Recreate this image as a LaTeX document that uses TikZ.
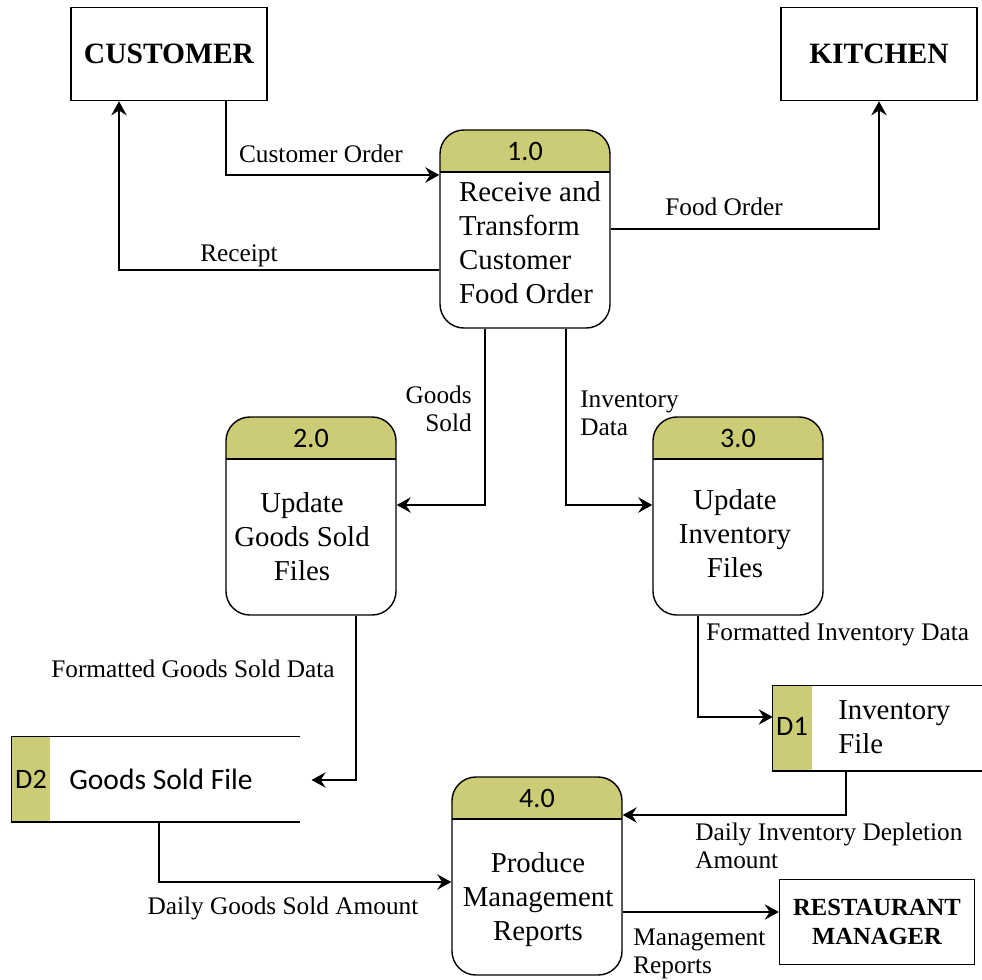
\documentclass[tikz,border=0pt]{standalone}
\usepackage{fontspec}
\setmainfont{Liberation Serif}
\newfontfamily\numfont{Carlito}
\usetikzlibrary{arrows.meta,positioning}
\definecolor{hdr}{RGB}{204,204,118}
\tikzset{
    %Define standard arrow tip
    >={Stealth[length=10pt,width=11pt,inset=3.5pt]},
    %Define style for external entities
    entity/.style={
           rectangle,
           draw=black, line width=1pt,
           minimum width=4.9cm,
           minimum height=2.33cm,
           font=\fontsize{21}{25}\selectfont\bfseries,
           align=center},
    %Define style for processes
    process/.style={
           rectangle,
           rounded corners=0.6cm,
           draw=black, line width=1pt,
           minimum width=4.25cm,
           minimum height=4.95cm,
           path picture={
             \fill[hdr, sharp corners] (path picture bounding box.north west)
                rectangle ([yshift=-1.05cm]path picture bounding box.north east);
             \draw[line width=1pt, sharp corners] ([yshift=-1.05cm]path picture bounding box.north west)
                -- ([yshift=-1.05cm]path picture bounding box.north east);}},
    ptext/.style={
           font=\fontsize{20.5}{24.2}\selectfont,
           align=center,
           inner sep=0pt},
    num/.style={
           font=\numfont\fontsize{20}{24}\selectfont,
           inner sep=0pt},
    store/.style={
           rectangle,
           minimum height=2.125cm},
    flowlabel/.style={
           font=\fontsize{18}{20}\selectfont,
           inner sep=0pt},
    % Define arrow style
    flow/.style={
           ->,
           line width=1pt}
}
\begin{document}
\begin{tikzpicture}[x=0.025cm,y=-0.025cm]
\useasboundingbox (0,0) rectangle (982,980);
 %entities
\node[entity](cust) at (169,54){CUSTOMER};
\node[entity](kit) at (879,54){KITCHEN};
\node[entity, minimum width=4.875cm, minimum height=2.125cm,
  font=\fontsize{17.5}{21}\selectfont\bfseries](rm) at (877,922){RESTAURANT\\MANAGER};
 %processes
\node[process](p1) at (525,229){};
\node[process](p2) at (311,516){};
\node[process](p3) at (738,516){};
\node[process](p4) at (537,876){};
\node[num](n1) at (525,151){1.0};
\node[num](n2) at (311,438){2.0};
\node[num](n3) at (738,438){3.0};
\node[num](n4) at (537,798){4.0};
\node[ptext, align=left](t1) at (530,243){Receive and\\Transform\\Customer\\Food Order};
\node[ptext](t2) at (302,537){Update\\Goods Sold\\Files};
\node[ptext](t3) at (735,534){Update\\Inventory\\Files};
\node[ptext](t4) at (538,900){Produce\\Management\\Reports};
 %data stores
\node[store, minimum width=7.2cm](d2) at (156,779){};
\node[store, minimum width=5.3cm](d1) at (879,728){};
\fill[hdr] (d2.north west) rectangle ([xshift=0.97cm]d2.south west);
\fill[hdr] (d1.north west) rectangle ([xshift=0.97cm]d1.south west);
\draw[line width=1pt] (d2.north east) -- (d2.north west) -- (d2.south west) -- (d2.south east);
\draw[line width=1pt] (d1.north east) -- (d1.north west) -- (d1.south west) -- (d1.south east);
\node[num](d2id) at (31,779){D2};
\node[num, font=\numfont\fontsize{21}{25}\selectfont](d2txt) at (161,779){Goods Sold File};
\node[num](d1id) at (792,726){D1};
\node[ptext, align=left, anchor=west](d1txt) at (838,727){Inventory\\File};
 %flows
\draw[flow] (cust.south -| 226,0) |- (p1.west |- 0,175);
\draw[flow] (p1.west |- 0,270) -| (cust.south -| 119,0);
\draw[flow] (p1.east) -| (kit.south);
\draw[flow] (p1.south -| 485,0) |- (p2.east |- 0,505);
\draw[flow] (p1.south -| 566,0) |- (p3.west |- 0,505);
\draw[flow, shorten >=8pt] (p2.south -| 356,0) |- (d2.east |- 0,780);
\draw[flow] (p3.south -| 698,0) |- (d1.west |- 0,717);
\draw[flow] (d1.south -| 846,0) |- (p4.east |- 0,815);
\draw[flow] (d2.south -| 159,0) |- (p4.west |- 0,882);
\draw[flow] (p4.east |- 0,912) -- (rm.west |- 0,912);
 %flow labels
\node[flowlabel](lco) at (321,154){Customer Order};
\node[flowlabel](lrc) at (239,256){Receipt};
\node[flowlabel](lfo) at (724,207){Food Order};
\node[flowlabel, align=right, anchor=east](lgs) at (472,409){Goods\\Sold};
\node[flowlabel, align=left, anchor=west](lid) at (580,413){Inventory\\Data};
\node[flowlabel](lfg) at (193,669){Formatted Goods Sold Data};
\node[flowlabel, anchor=west](lfi) at (706,634){Formatted Inventory Data};
\node[flowlabel, align=left, anchor=west](ldi) at (695,846){Daily Inventory Depletion\\Amount};
\node[flowlabel](ldg) at (283,908){Daily Goods Sold Amount};
\node[flowlabel, align=left, anchor=west](lmr) at (633,954){Management\\Reports};
\end{tikzpicture}
\end{document}
